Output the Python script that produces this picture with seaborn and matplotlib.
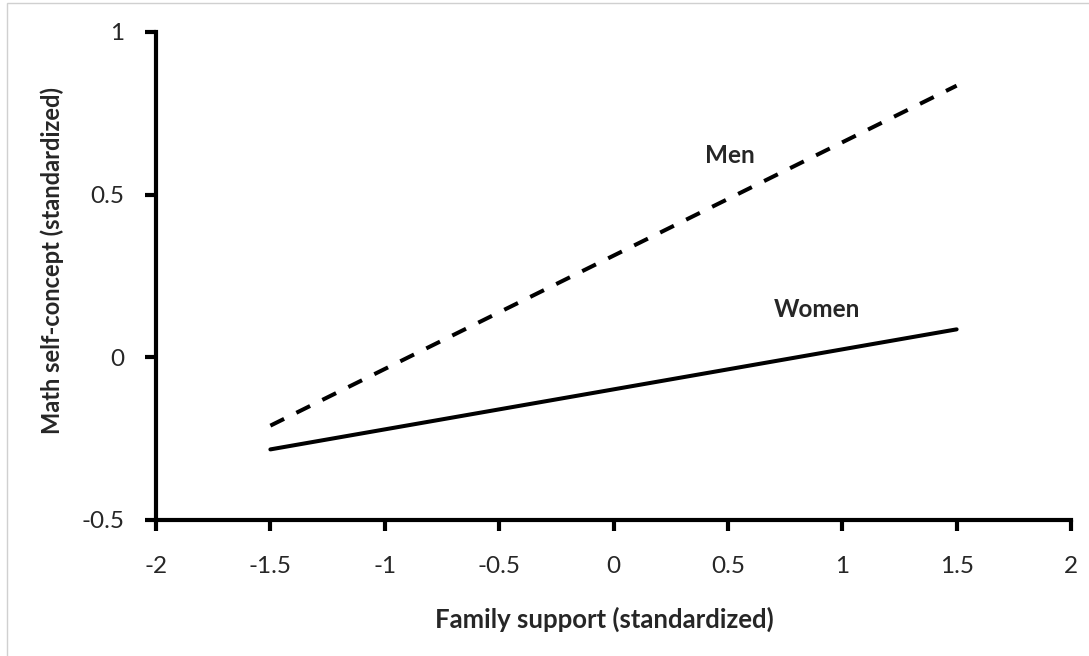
import matplotlib
matplotlib.use("Agg")
import matplotlib.pyplot as plt
import matplotlib.patches as mpatches
import seaborn as sns
import pandas as pd

# Data
family_support = [-1.5, 1.5]
men_values = [-0.21, 0.835]
women_values = [-0.283, 0.086]
x_ticks = [-2, -1.5, -1, -0.5, 0, 0.5, 1, 1.5, 2]
y_ticks = [-0.5, 0, 0.5, 1]

df = pd.concat([
    pd.DataFrame({"x": family_support, "y": men_values, "group": "Men"}),
    pd.DataFrame({"x": family_support, "y": women_values, "group": "Women"}),
])

sns.set_style("white")
plt.rcParams['font.family'] = ['Lato', 'DejaVu Sans']

fig = plt.figure(figsize=(10.89, 6.56), dpi=100)
ax = fig.add_axes([156/1089, 1 - 520/656, (1071-156)/1089, (520-32)/656])

sns.lineplot(data=df, x="x", y="y", hue="group", style="group",
             palette={"Men": "black", "Women": "black"},
             dashes={"Men": (3.8, 3.4), "Women": ""},
             linewidth=2.9, legend=False, ax=ax)

ax.set_xlim(-2, 2)
ax.set_ylim(-0.5, 1)
ax.set_xticks(x_ticks)
ax.set_xticklabels([f"{t:g}" for t in x_ticks])
ax.set_yticks(y_ticks)
ax.set_yticklabels([f"{t:g}" for t in y_ticks])
for s in ["top", "right"]:
    ax.spines[s].set_visible(False)
for s in ["left", "bottom"]:
    ax.spines[s].set_linewidth(3)
    ax.spines[s].set_color("black")
ax.tick_params(axis="both", direction="out", length=8, width=3, color="black",
               labelsize=17.5, left=True, bottom=True)
ax.tick_params(axis="x", pad=18)
ax.tick_params(axis="y", pad=15)

ax.set_xlabel("Family support (standardized)", fontsize=18.5, fontweight="bold")
ax.set_ylabel("Math self-concept (standardized)", fontsize=17, fontweight="bold")
ax.xaxis.set_label_coords(0.49, -0.178)
ax.yaxis.set_label_coords(-0.1, 0.531)

ax.text(0.51, 0.62, "Men", fontsize=17.5, fontweight="bold", ha="center", va="center")
ax.text(0.89, 0.148, "Women", fontsize=17.5, fontweight="bold", ha="center", va="center")

# thin grey frame around the figure
fig.patches.append(mpatches.Rectangle((7/1089, -0.1), 1.2, 1 - 3/656 + 0.1,
                                      transform=fig.transFigure, fill=False,
                                      edgecolor="#d0d0d0", linewidth=1))

fig.savefig("out.png", dpi=100)
